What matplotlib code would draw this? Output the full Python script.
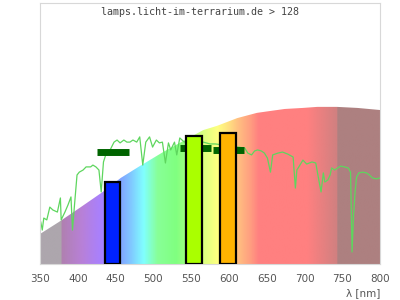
import numpy as np
import matplotlib
matplotlib.use("Agg")
import matplotlib.pyplot as plt
from matplotlib.colors import LinearSegmentedColormap

# envelope of the coloured background (nm, relative value)
env_nm = [350, 375, 403, 433, 457, 482, 513, 535, 566, 584, 611, 637, 654, 674,
          698, 717, 743, 770, 800]
env_val = [11.5, 16.1, 21.6, 27.6, 33.0, 37.5, 42.9, 46.4, 51.3, 52.9, 55.9, 57.9,
           58.6, 59.4, 59.8, 60.2, 60.2, 59.8, 59.0]

# measured lamp spectrum (light green line)
spec_nm = [351, 353, 355, 359, 363, 367, 373, 377, 378, 383, 387, 391, 393, 396,
           399, 402, 407, 411, 417, 420, 424, 428, 431, 434, 437, 441, 444, 448,
           452, 456, 461, 465, 469, 473, 478, 482, 486, 490, 495, 499, 504, 508,
           512, 516, 520, 523, 528, 531, 535, 541, 545, 560, 566, 575, 582, 612,
           621, 625, 630, 634, 638, 643, 647, 651, 655, 658, 665, 671, 678, 685,
           688, 690, 694, 698, 703, 710, 715, 719, 722, 725, 727, 731, 734, 736,
           740, 744, 748, 753, 758, 761, 762, 763, 765, 767, 769, 772, 777, 782,
           786, 790, 795, 800]
spec_val = [16.1, 13.0, 17.6, 16.9, 21.8, 20.7, 19.9, 25.3, 16.9, 19.9, 22.6, 25.7,
            13.0, 23.8, 34.1, 35.2, 36.0, 37.2, 37.2, 37.9, 37.2, 36.0, 27.6, 39.1,
            41.8, 42.5, 44.4, 46.7, 47.5, 46.4, 47.5, 46.7, 46.7, 47.5, 46.7, 48.7,
            37.9, 46.7, 48.7, 44.8, 47.5, 46.4, 46.7, 38.7, 46.4, 43.7, 46.7, 41.8,
            48.3, 46.7, 47.5, 46.7, 46.7, 46.0, 46.0, 44.8, 44.4, 42.5, 41.8, 43.3,
            43.7, 43.3, 42.5, 40.6, 35.2, 41.8, 42.5, 42.9, 42.1, 41.0, 29.1, 36.0,
            37.9, 39.8, 38.3, 39.1, 38.7, 32.2, 27.6, 34.9, 31.4, 32.2, 34.1, 36.8,
            36.0, 36.8, 37.5, 37.2, 36.8, 35.2, 21.5, 4.6, 18.8, 27.6, 33.3, 34.9,
            35.2, 34.9, 34.1, 33.0, 32.6, 33.0]

# photoreceptor bars
bar_nm = [446, 554, 599]
bar_val = [31.5, 49.2, 50.1]
bar_colors = ["#0022ff", "#aaff00", "#ffb300"]

# dark green reference marks
mark_left = [425.5, 535, 578.5]
mark_right = [468, 576, 620]
mark_val = [42.9, 44.6, 43.7]

# pastel spectrum colours
grad_stops = [(350, "#ada6ad"), (377, "#ada6ad"), (378, "#b080b0"), (405, "#b880d8"),
              (430, "#a880ff"), (455, "#80a0ff"), (470, "#80c8ff"), (487, "#80ffff"),
              (505, "#88ff98"), (530, "#80ff80"), (550, "#a8ff80"), (565, "#d8ff80"),
              (585, "#ffff80"), (600, "#ffe080"), (612, "#ffc080"), (628, "#ffa080"),
              (640, "#ff8080"), (705, "#ff8080"), (744, "#d08080"), (745, "#ad8080"),
              (800, "#ad8080")]

fig = plt.figure(figsize=(4, 3), dpi=100)
ax = fig.add_axes([0.1, 0.12, 0.85, 0.87])
ax.set_xlim(350, 800)
ax.set_ylim(0, 100)

cmap = LinearSegmentedColormap.from_list(
    "spec", [((n - 350) / 450, c) for n, c in grad_stops])
grad = np.linspace(0, 1, 900).reshape(1, -1)
img = ax.imshow(grad, cmap=cmap, aspect="auto", extent=[350, 800, 0, 100],
                interpolation="bilinear", zorder=1)
poly = ax.fill_between(env_nm, 0, env_val, color="none", zorder=1)
img.set_clip_path(poly.get_paths()[0], transform=ax.transData)

ax.plot(spec_nm, spec_val, color="#5ed65e", lw=0.9, zorder=2)

ax.hlines(mark_val, mark_left, mark_right, colors="#006400", lw=5,
          capstyle="butt", zorder=3)

ax.bar(bar_nm, bar_val, width=21, color=bar_colors, edgecolor="black",
       linewidth=1.6, zorder=4)

ax.text(0.47, 0.965, "lamps.licht-im-terrarium.de > 128", transform=ax.transAxes,
        ha="center", va="center", family="DejaVu Sans Mono", fontsize=7.2,
        color="#444444")

ax.set_xticks(range(350, 801, 50))
ax.tick_params(axis="x", length=0, pad=7, labelsize=7.5, labelcolor="#555555")
ax.set_yticks([])
for s in ax.spines.values():
    s.set_color("#d8d8d8")
ax.set_xlabel("λ [nm]", fontsize=7.5, color="#555555", loc="right", labelpad=3)

fig.savefig("out.png", dpi=100)
